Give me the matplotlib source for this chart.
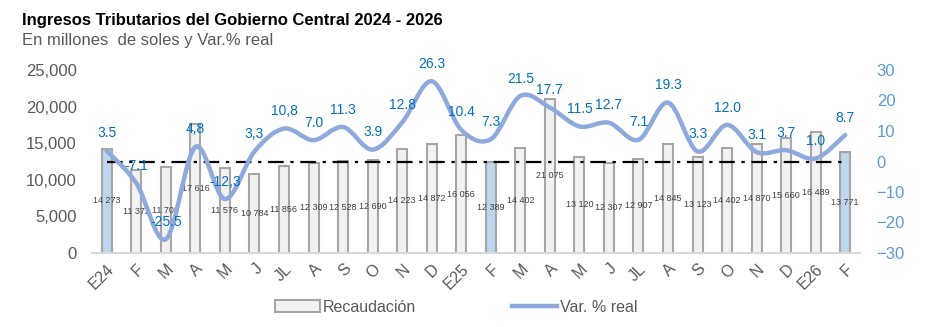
import numpy as np
import matplotlib
matplotlib.use("Agg")
import matplotlib.pyplot as plt
from matplotlib.path import Path
from matplotlib.patches import PathPatch, Patch
from matplotlib.lines import Line2D

plt.rcParams['font.family'] = ['Liberation Sans', 'DejaVu Sans']

# meses (enero 2024 - febrero 2026)
meses = ["E24", "F", "M", "A", "M", "J", "JL", "A", "S", "O", "N", "D",
         "E25", "F", "M", "A", "M", "J", "JL", "A", "S", "O", "N", "D",
         "E26", "F"]

# recaudacion en millones de soles
recaudacion = [14273, 11372, 11708, 17616, 11576, 10784, 11856, 12309, 12528,
               12690, 14223, 14872, 16056, 12389, 14402, 21075, 13120, 12307,
               12907, 14845, 13123, 14402, 14870, 15660, 16489, 13771]

# var. % real (texto tal como se muestra en las etiquetas)
etiquetas_var = ["3.5", "-7.1", "-25.5", "4,8", "-12,3", "3,3", "10,8", "7.0",
                 "11.3", "3.9", "12.8", "26.3", "10.4", "7.3", "21.5", "17.7",
                 "11.5", "12.7", "7.1", "19.3", "3.3", "12.0", "3.1", "3.7",
                 "1.0", "8.7"]
var_real = [float(s.replace(",", ".")) for s in etiquetas_var]

# meses resaltados
resaltados = [0, 13, 25]

gris_borde = "#A6A6A6"
gris_relleno = "#F2F2F2"
azul_relleno = "#BDD7EE"
azul_linea = "#8EA9DB"
azul_texto = "#0070C0"
azul_eje = "#5B9BD5"
gris_texto = "#595959"

fig = plt.figure(figsize=(9.26, 3.27), dpi=100)
ax = fig.add_axes([92/926, 74/327, 768/926, 183/327])
ax2 = ax.twinx()

x = np.arange(len(meses))
colores = [azul_relleno if i in resaltados else gris_relleno for i in x]
ax.bar(x, recaudacion, width=0.34, color=colores, edgecolor=gris_borde,
       linewidth=1.5, zorder=2)

# etiquetas de recaudacion al centro de cada barra
for xi, v in zip(x, recaudacion):
    ax.text(xi, v / 2, f"{v:,}".replace(",", " "), ha="center", va="center",
            fontsize=6.5, color="#404040", zorder=5)

ax.set_xlim(-0.5, len(meses) - 0.5)
ax.set_ylim(0, 25000)
ax.set_yticks(np.arange(0, 25001, 5000))
ax.set_yticklabels([f"{v:,}" for v in range(0, 25001, 5000)])
ax.tick_params(axis="y", length=0, labelsize=12, labelcolor=gris_texto, pad=11)
ax.set_xticks(x)
ax.set_xticklabels(meses, rotation=45, ha="right", rotation_mode="anchor")
ax.tick_params(axis="x", length=0, labelsize=11.5, labelcolor=gris_texto, pad=6)
for lado in ["top", "left", "right"]:
    ax.spines[lado].set_visible(False)
ax.spines["bottom"].set_color("#D9D9D9")
ax.spines["bottom"].set_linewidth(1.5)

# eje derecho: variacion porcentual
ax2.set_ylim(-30, 30)
ax2.set_yticks(np.arange(-30, 31, 10))
ax2.tick_params(axis="y", length=0, labelsize=12, labelcolor=azul_eje, pad=12)
for lado in ["top", "left", "right", "bottom"]:
    ax2.spines[lado].set_visible(False)

ax2.plot([x[0], x[-1]], [0, 0], color="black", linestyle="-.", linewidth=1.6,
         dashes=(7, 3, 1.5, 3), zorder=3)

# linea suavizada (Catmull-Rom convertida a curvas de Bezier)
pts = np.column_stack([x, var_real]).astype(float)
verts = [pts[0]]
codes = [Path.MOVETO]
for i in range(len(pts) - 1):
    p0 = pts[i - 1] if i > 0 else pts[i]
    p1 = pts[i]
    p2 = pts[i + 1]
    p3 = pts[i + 2] if i + 2 < len(pts) else pts[i + 1]
    c1 = p1 + (p2 - p0) / 6.0
    c2 = p2 - (p3 - p1) / 6.0
    verts += [c1, c2, p2]
    codes += [Path.CURVE4] * 3
curva = PathPatch(Path(verts, codes), facecolor="none", edgecolor=azul_linea,
                  linewidth=3.2, capstyle="round", zorder=4)
ax2.add_patch(curva)

for xi, v, s in zip(x, var_real, etiquetas_var):
    ax2.annotate(s, (xi, v), xytext=(0, 12.5), textcoords="offset points",
                 ha="center", va="center", fontsize=10, color=azul_texto,
                 zorder=6)

fig.text(22/926, 1 - 20/327, "Ingresos Tributarios del Gobierno Central 2024 - 2026",
         fontsize=12, fontweight="bold", color="black", va="center")
fig.text(22/926, 1 - 41/327, "En millones  de soles y Var.% real",
         fontsize=12, color=gris_texto, va="center")

handles = [Patch(facecolor=gris_relleno, edgecolor=gris_borde, linewidth=1.5),
           Line2D([], [], color=azul_linea, linewidth=3.2)]
fig.legend(handles, ["Recaudación", "Var. % real"], loc="center",
           bbox_to_anchor=(456/926, 1 - 307/327), ncol=2, frameon=False,
           fontsize=11.5, labelcolor=gris_texto, handlelength=2.8,
           handletextpad=0.2, columnspacing=6)

fig.savefig("out.png", dpi=100)
